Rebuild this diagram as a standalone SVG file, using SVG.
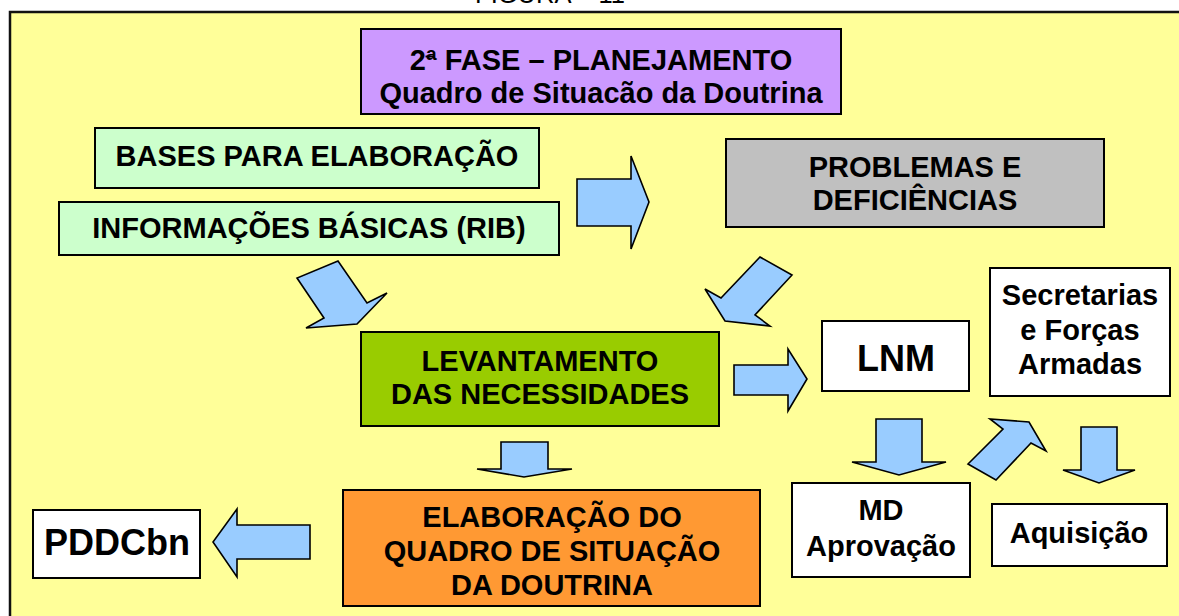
<svg xmlns="http://www.w3.org/2000/svg" width="1179" height="616" viewBox="0 0 1179 616">
<style>
.box{stroke:#000;stroke-width:2}
.arr{fill:#99CCFF;stroke:#000;stroke-width:1.6;stroke-linejoin:miter}
.t{font-family:"Liberation Sans",Arial,sans-serif;font-weight:bold;font-size:29px;fill:#000;text-anchor:middle}
.big{font-size:36px}
</style>
<rect x="0" y="0" width="1179" height="616" fill="#FFFFFF"/>
<text x="550" y="3" style="font-family:'Liberation Sans',Arial,sans-serif;font-size:25.5px;fill:#000;text-anchor:middle">FIGURA – 11</text>
<rect x="10" y="12" width="1200" height="700" fill="#FFFF99" stroke="#111" stroke-width="2.5"/>

<g id="fase">
<rect class="box" x="361" y="29" width="480" height="85" fill="#CC99FF"/>
<text class="t" x="601" y="70">2ª FASE – PLANEJAMENTO</text>
<line x1="425.5" y1="56.5" x2="434" y2="56.5" stroke="#000" stroke-width="1.8"/>
<text class="t" x="601" y="103">Quadro de Situacão da Doutrina</text>
</g>
<g id="bases">
<rect class="box" x="95" y="128" width="444" height="60" fill="#CCFFCC"/>
<text class="t" x="317" y="166">BASES PARA ELABORAÇÃO</text>
</g>
<g id="rib">
<rect class="box" x="59" y="202" width="500" height="53" fill="#CCFFCC"/>
<text class="t" x="309" y="238">INFORMAÇÕES BÁSICAS (RIB)</text>
</g>
<g id="problemas">
<rect class="box" x="726" y="139" width="378" height="88" fill="#C0C0C0"/>
<text class="t" x="915" y="177">PROBLEMAS E</text>
<text class="t" x="915" y="210">DEFICIÊNCIAS</text>
</g>
<g id="levantamento">
<rect class="box" x="361" y="332" width="358" height="94" fill="#99CC00"/>
<text class="t" x="540" y="371">LEVANTAMENTO</text>
<text class="t" x="540" y="404">DAS NECESSIDADES</text>
</g>
<g id="lnm">
<rect class="box" x="822" y="321" width="147" height="70" fill="#FFFFFF"/>
<text class="t big" x="896" y="371">LNM</text>
</g>
<g id="secretarias">
<rect class="box" x="990" y="268" width="180" height="128" fill="#FFFFFF"/>
<text class="t" x="1080" y="305">Secretarias</text>
<text class="t" x="1080" y="340">e Forças</text>
<text class="t" x="1080" y="374">Armadas</text>
</g>
<g id="elaboracao">
<rect class="box" x="343" y="490" width="417" height="116" fill="#FF9933"/>
<text class="t" x="552" y="527">ELABORAÇÃO DO</text>
<text class="t" x="552" y="561">QUADRO DE SITUAÇÃO</text>
<text class="t" x="552" y="595">DA DOUTRINA</text>
</g>
<g id="pddcbn">
<rect class="box" x="33" y="510" width="167" height="68" fill="#FFFFFF"/>
<text class="t big" x="117" y="555">PDDCbn</text>
</g>
<g id="md">
<rect class="box" x="792" y="483" width="178" height="94" fill="#FFFFFF"/>
<text class="t" x="881" y="520">MD</text>
<text class="t" x="881" y="556">Aprovação</text>
</g>
<g id="aquisicao">
<rect class="box" x="992" y="504" width="175" height="62" fill="#FFFFFF"/>
<text class="t" x="1079" y="543">Aquisição</text>
</g>

<g id="connectors">
<polygon class="arr" points="577,179 631,179 631,156 649,202 631,249 631,226 577,226"/>
<polygon class="arr" points="760,257 792,275 755,315 770,326 725,321 705,289 721,298"/>
<polygon class="arr" points="338,261 297,278 324,318 306,328 357,324 387,293 367,303"/>
<polygon class="arr" points="734,365 788,365 788,349 807,379 788,411 788,395 734,395"/>
<polygon class="arr" points="501,442 548,442 548,469 572,469 524,477 477,469 501,469"/>
<polygon class="arr" points="310,525 237,525 237,509 213,542 237,577 237,559 310,559"/>
<polygon class="arr" points="876,419 922,419 922,462 946,462 899,475 852,462 876,462"/>
<polygon class="arr" points="968,464 1003,429 990,419 1029,422 1046,451 1031,443 996,480"/>
<polygon class="arr" points="1081,427 1117,427 1117,470 1135,470 1099,483 1063,470 1081,470"/>
</g>
</svg>
